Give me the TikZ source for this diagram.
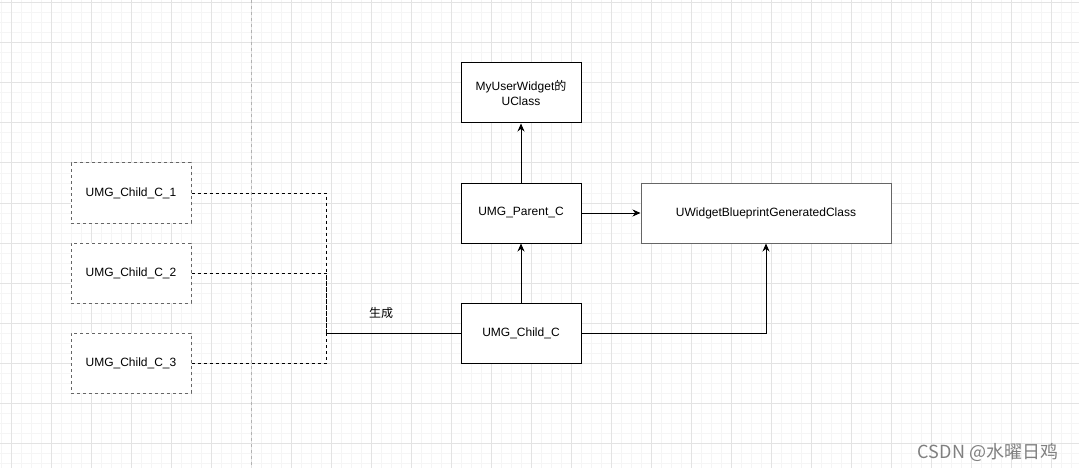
\documentclass[tikz,border=0pt]{standalone}
\usepackage{fontspec}
\setmainfont{Liberation Sans}
\newfontfamily\cjk{Noto Sans CJK SC}
\usetikzlibrary{arrows.meta}
\definecolor{gridmajor}{HTML}{E3E3E3}
\definecolor{gridminor}{HTML}{F5F5F5}
\definecolor{boxgray}{HTML}{666666}
\begin{document}
\begin{tikzpicture}[x=1pt, y=-1pt, >={Stealth[length=8pt,width=7pt]},
    box/.style={draw, line width=1pt, fill=white, minimum width=120pt, minimum height=60pt,
        align=center, font=\fontsize{12}{15}\selectfont},
    childbox/.style={box, draw=boxgray, dashed},
    link/.style={line width=1pt},
    dlink/.style={line width=1pt, dashed}]

    \useasboundingbox (0,0) rectangle (1079,468);
    \fill[white] (0,0) rectangle (1079,468);

    % Grid
    \foreach \x in {1,11,...,1071}
        \draw[gridminor, line width=1pt] (\x,0) -- (\x,468);
    \foreach \y in {3,13,...,463}
        \draw[gridminor, line width=1pt] (0,\y) -- (1079,\y);
    \foreach \x in {11,51,...,1051}
        \draw[gridmajor, line width=1pt] (\x,0) -- (\x,468);
    \foreach \y in {3,43,...,443}
        \draw[gridmajor, line width=1pt] (0,\y) -- (1079,\y);
    \draw[gray!60, line width=1pt, dashed] (251,0) -- (251,468);

    % Classes
    \node[box] (myuc) at (521,93) {MyUserWidget{\cjk 的}\\UClass};
    \node[box] (parent) at (521,213) {UMG\_Parent\_C};
    \node[box] (child) at (521,333) {UMG\_Child\_C};
    \node[box, draw=boxgray, minimum width=250pt] (wbgc) at (766,213) {UWidgetBlueprintGeneratedClass};

    % Generated children
    \node[childbox] (c1) at (131,193) {UMG\_Child\_C\_1};
    \node[childbox] (c2) at (131,273) {UMG\_Child\_C\_2};
    \node[childbox] (c3) at (131,363) {UMG\_Child\_C\_3};
    \coordinate (junc) at (326,333);

    % Connectors
    \draw[link, ->] (parent) -- (myuc);
    \draw[link, ->] (child) -- (parent);
    \draw[link, ->] (parent) -- (wbgc);
    \draw[link, ->] (child.east) -| (wbgc.south);
    \draw[dlink] (c1.east) -| (junc);
    \draw[dlink] (c2.east) -| (junc);
    \draw[dlink] (c3.east) -| (junc);
    \draw[link] (junc) -- (child);
    \node[font=\cjk\fontsize{12}{14}\selectfont] (gen) at (381,313) {生成};

    % Watermark
    \node[text=black!50, font=\cjk\fontsize{18}{20}\selectfont] (mark) at (988,452) {CSDN @水曜日鸡};

\end{tikzpicture}
\end{document}
